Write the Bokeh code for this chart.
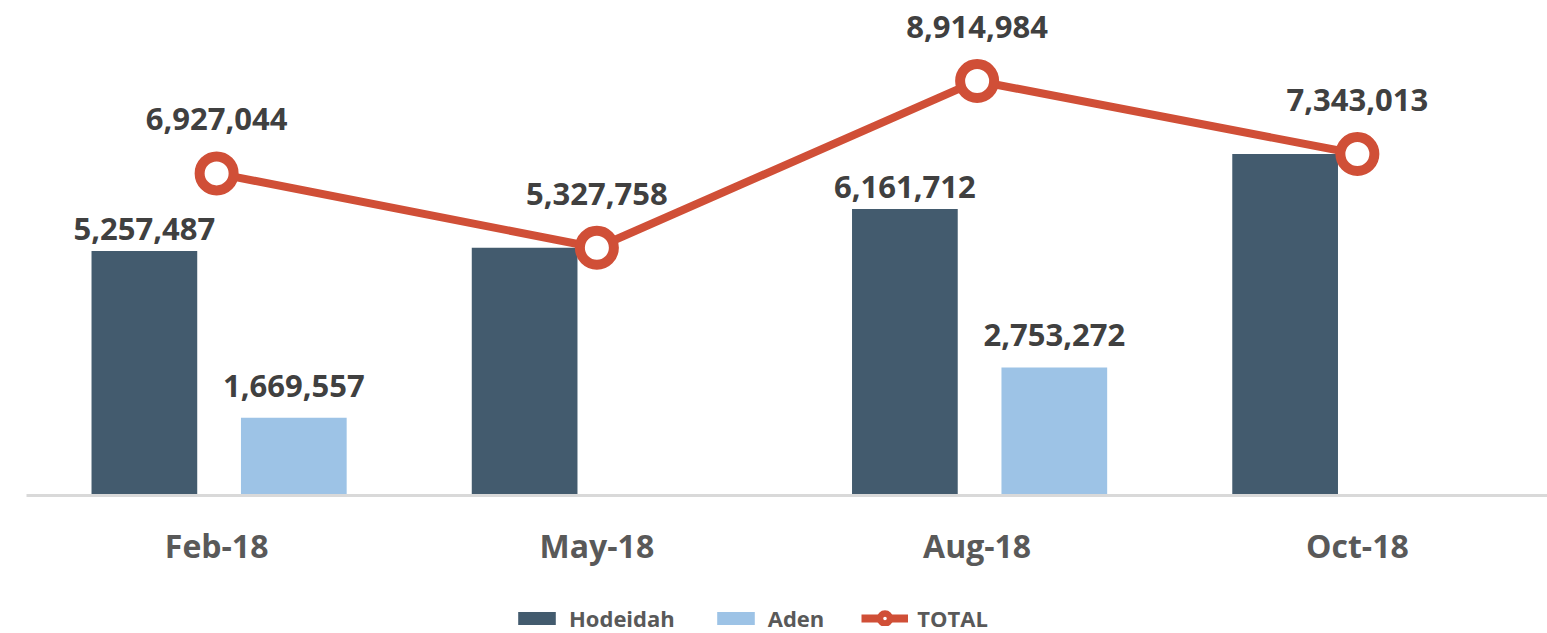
from bokeh.plotting import figure
from bokeh.layouts import column
from bokeh.models import ColumnDataSource, FactorRange, Range1d, Legend, LegendItem
from bokeh.transform import dodge
from bokeh.core.properties import value
from bokeh.embed import file_html
from bokeh.resources import INLINE

# ---- data ----
months = ["Feb-18", "May-18", "Aug-18", "Oct-18"]
hodeidah = [5257487, 5327758, 6161712, 7343013]
aden = [1669557, 0, 2753272, 0]
total = [6927044, 5327758, 8914984, 7343013]

SLATE = "#435b6e"
LIGHT = "#9dc3e6"
RED = "#d04f37"
LABEL_GREY = "#404040"
AXIS_GREY = "#595959"
FONT = "Open Sans"

def fmt(v):
    return f"{v:,}"

src = ColumnDataSource(dict(
    month=months, hodeidah=hodeidah, aden=aden, total=total,
    total_lbl=[fmt(v) for v in total],
))

# labels for bars only where they don't coincide with the total
h_idx = [i for i in range(len(months)) if aden[i] > 0]
hsrc = ColumnDataSource(dict(month=[months[i] for i in h_idx],
                             val=[hodeidah[i] for i in h_idx],
                             lbl=[fmt(hodeidah[i]) for i in h_idx]))
a_idx = [i for i in range(len(months)) if aden[i] > 0]
asrc = ColumnDataSource(dict(month=[months[i] for i in a_idx],
                             val=[aden[i] for i in a_idx],
                             lbl=[fmt(aden[i]) for i in a_idx]))

p = figure(frame_width=1521, frame_height=495, x_range=FactorRange(*months),
           y_range=Range1d(0, 10.645e6), output_backend="svg",
           toolbar_location=None, min_border_left=26, min_border_right=0,
           min_border_top=0, min_border_bottom=80)

BW = 0.278
OFF_H = -0.19
OFF_A = 0.203

bar_h = dict(fill_color=SLATE, line_color=None)
bar_a = dict(fill_color=LIGHT, line_color=None)
line_kw = dict(line_color=RED, line_width=8)
mark_kw = dict(size=34, marker="circle", fill_color="white", line_color=RED, line_width=10)

p.vbar(x=dodge("month", OFF_H, range=p.x_range), top="hodeidah", width=BW,
       source=src, **bar_h)
p.vbar(x=dodge("month", OFF_A, range=p.x_range), top="aden", width=BW,
       source=src, **bar_a)
p.line(x="month", y="total", source=src, **line_kw)
p.scatter(x="month", y="total", source=src, **mark_kw)

lbl_kw = dict(text_align="center", text_baseline="alphabetic",
              text_font=value(FONT), text_font_style="bold",
              text_font_size="31px", text_color=LABEL_GREY)
p.text(x=dodge("month", OFF_H, range=p.x_range), y="val", text="lbl", source=hsrc,
       y_offset=-22, **lbl_kw)
p.text(x=dodge("month", OFF_A, range=p.x_range), y="val", text="lbl", source=asrc,
       y_offset=-32, **lbl_kw)
p.text(x="month", y="total", text="total_lbl", source=src,
       y_offset=-54, **lbl_kw)

p.yaxis.visible = False
p.xgrid.grid_line_color = None
p.ygrid.grid_line_color = None
p.outline_line_color = None

xa = p.xaxis[0]
xa.axis_line_color = "#d9d9d9"
xa.axis_line_width = 3
xa.major_tick_line_color = None
xa.minor_tick_line_color = None
xa.major_label_standoff = 22
xa.major_label_text_font = FONT
xa.major_label_text_font_style = "bold"
xa.major_label_text_font_size = "32px"
xa.major_label_text_color = AXIS_GREY

# ---- legend strip (its renderers sit outside the visible range) ----
lg = figure(width=1547, height=58, x_range=Range1d(0, 1), y_range=Range1d(0, 1),
            output_backend="svg", toolbar_location=None,
            min_border_left=0, min_border_right=0, min_border_top=0, min_border_bottom=0)
lg.axis.visible = False
lg.xgrid.grid_line_color = None
lg.ygrid.grid_line_color = None
lg.outline_line_color = None
offscreen = ColumnDataSource(dict(x=[50, 51], y=[50, 51], top=[50, 51]))
l_h = lg.vbar(x="x", top="top", width=0.1, source=offscreen, **bar_h)
l_a = lg.vbar(x="x", top="top", width=0.1, source=offscreen, **bar_a)
l_l = lg.line(x="x", y="y", source=offscreen, **line_kw)
l_s = lg.scatter(x="x", y="y", source=offscreen, **mark_kw)

legend = Legend(items=[
    LegendItem(label="Hodeidah", renderers=[l_h]),
    LegendItem(label="Aden", renderers=[l_a]),
    LegendItem(label="TOTAL", renderers=[l_l, l_s]),
], orientation="horizontal", location=(487, 0))
legend.glyph_width = 47
legend.glyph_height = 16
legend.label_height = 16
legend.label_standoff = 9
legend.spacing = 37
legend.padding = 0
legend.margin = 0
legend.border_line_color = None
legend.background_fill_alpha = 0
legend.label_text_font = FONT
legend.label_text_font_style = "bold"
legend.label_text_font_size = "22px"
legend.label_text_color = AXIS_GREY
lg.add_layout(legend)

layout = column(p, lg)
open("out.html", "w").write(file_html(layout, INLINE))
